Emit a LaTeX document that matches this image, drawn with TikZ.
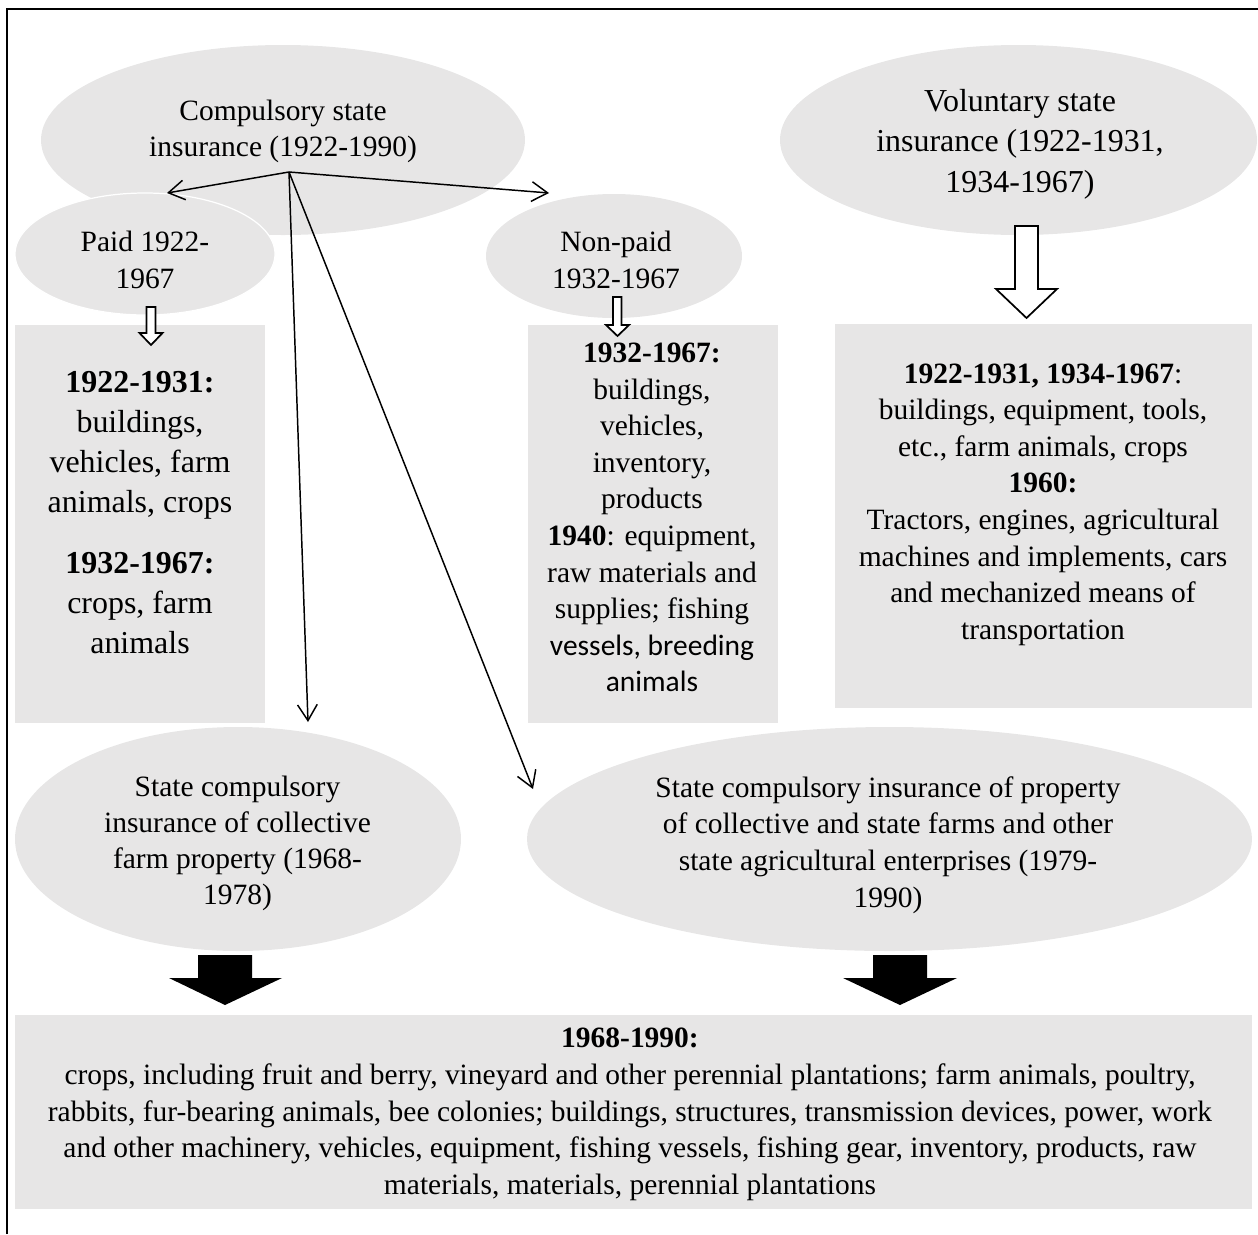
\documentclass[tikz,border=0pt]{standalone}
\usepackage{fontspec}
\setmainfont{Liberation Serif}
\newfontfamily\calibrifont{Carlito}
\usetikzlibrary{arrows.meta,shapes.geometric}
\definecolor{shade}{HTML}{E7E6E6}
\newcommand\pxs{0.407pt}
\begin{document}
\begin{tikzpicture}[x=0.407pt,y=-0.407pt,
  ell/.style={ellipse, fill=shade, inner sep=0pt, draw=none},
  boxfill/.style={rectangle, fill=shade, inner sep=0pt, anchor=north west},
  txt/.style={align=center, inner sep=0pt, font=\fontsize{12}{14.9}\selectfont},
  bigtxt/.style={align=center, inner sep=0pt, font=\fontsize{13}{16.5}\selectfont},
  conn/.style={line width=0.6pt, -{Straight Barb[length=6.5pt,width=8pt,line width=0.6pt]}},
  hollowarrow/.style={draw=black, fill=white, line width=0.7pt, line join=miter},
  blockarrow/.style={fill=black, draw=none},
  frame/.style={line width=0.8pt}]
\useasboundingbox (0,0) rectangle (1258,1234);

% top ellipses
\node[ell, minimum width=484*\pxs, minimum height=190*\pxs] (comp) at (283,140) {};
\node[ell, draw=white, line width=0.5pt, minimum width=260*\pxs, minimum height=122*\pxs] (paid) at (145,254) {};
\node[ell, minimum width=256*\pxs, minimum height=124*\pxs] (nonpaid) at (614,256) {};
\node[ell, minimum width=477*\pxs, minimum height=190*\pxs] (vol) at (1018.5,140) {};

\node[txt] (compT) at (283,131.5) {Compulsory state\\insurance (1922-1990)};
\node[txt] (paidT) at (145,260) {Paid 1922-\\1967};
\node[txt] (nonpaidT) at (616,260) {Non-paid\\1932-1967};
\node[bigtxt] (volT) at (1020,144) {Voluntary state\\insurance (1922-1931,\\1934-1967)};

% boxes
\node[boxfill, minimum width=250*\pxs, minimum height=397*\pxs] (paidbox) at (15,325) {};
\node[boxfill, minimum width=249*\pxs, minimum height=397*\pxs] (nonpaidbox) at (528,325) {};
\node[boxfill, minimum width=417*\pxs, minimum height=383*\pxs] (volbox) at (834,324) {};

\node[align=center, inner sep=0pt, font=\fontsize{13}{16.3}\selectfont] (paidboxT) at (140,512.5)
  {\textbf{1922-1931:}\\buildings,\\vehicles, farm\\animals, crops\\[8.5pt]\textbf{1932-1967:}\\crops, farm\\animals};
\node[txt] (nonpaidboxT) at (652,517.5)
  {\textbf{1932-1967:}\\buildings,\\vehicles,\\inventory,\\products\\\textbf{1940}: equipment,\\raw materials and\\supplies; fishing\\{\calibrifont vessels, breeding}\\{\calibrifont animals}};
\node[txt] (volboxT) at (1043,504.5)
  {\textbf{1922-1931, 1934-1967}:\\buildings, equipment, tools,\\etc., farm animals, crops\\\textbf{1960:}\\Tractors, engines, agricultural\\machines and implements, cars\\and mechanized means of\\transportation};

% hollow arrows
\draw[hollowarrow] (146.5,307) -- (155.5,307) -- (155.5,333) -- (162.5,333) -- (151,345) -- (139.5,333) -- (146.5,333) -- cycle;
\draw[hollowarrow] (613,297) -- (621.5,297) -- (621.5,325) -- (629,325) -- (617.5,336) -- (606,325) -- (613,325) -- cycle;
\draw[hollowarrow] (1015,226) -- (1038,226) -- (1038,289) -- (1057,289) -- (1026.5,318) -- (996,289) -- (1015,289) -- cycle;

% lower ellipses
\node[ell, minimum width=446*\pxs, minimum height=224*\pxs] (coll) at (238,839) {};
\node[ell, minimum width=725*\pxs, minimum height=224*\pxs] (prop) at (889.5,839) {};
\node[txt, font=\fontsize{12}{14.7}\selectfont] (collT) at (237.5,843.5)
  {State compulsory\\insurance of collective\\farm property (1968-\\1978)};
\node[txt, font=\fontsize{12}{14.9}\selectfont] (propT) at (888,845)
  {State compulsory insurance of property\\of collective and state farms and other\\state agricultural enterprises (1979-\\1990)};

% connectors
\coordinate (hub) at (289,172);
\coordinate (toPaid) at (167,193);
\coordinate (toNonpaid) at (549,193);
\coordinate (toColl) at (308,722);
\coordinate (toProp) at (533,789);
\draw[conn] (hub) -- (toPaid);
\draw[conn] (hub) -- (toNonpaid);
\draw[conn] (hub) -- (toColl);
\draw[conn] (hub) -- (toProp);

% black block arrows
\fill[blockarrow] (198,955) -- (252,955) -- (252,978) -- (282,978) -- (225,1005) -- (169,978) -- (198,978) -- cycle;
\fill[blockarrow] (873,955) -- (927,955) -- (927,978) -- (957,978) -- (900,1005) -- (843,978) -- (873,978) -- cycle;

% bottom box
\node[boxfill, minimum width=1236*\pxs, minimum height=194*\pxs] (bottombox) at (15,1014) {};
\node[txt, font=\fontsize{12}{14.96}\selectfont] (bottomT) at (630,1114.5)
  {\textbf{1968-1990:}\\crops, including fruit and berry, vineyard and other perennial plantations; farm animals, poultry,\\rabbits, fur-bearing animals, bee colonies; buildings, structures, transmission devices, power, work\\and other machinery, vehicles, equipment, fishing vessels, fishing gear, inventory, products, raw\\materials, materials, perennial plantations};

% frame
\draw[frame] (7,1234) -- (7,9) -- (1258,9);
\end{tikzpicture}
\end{document}
